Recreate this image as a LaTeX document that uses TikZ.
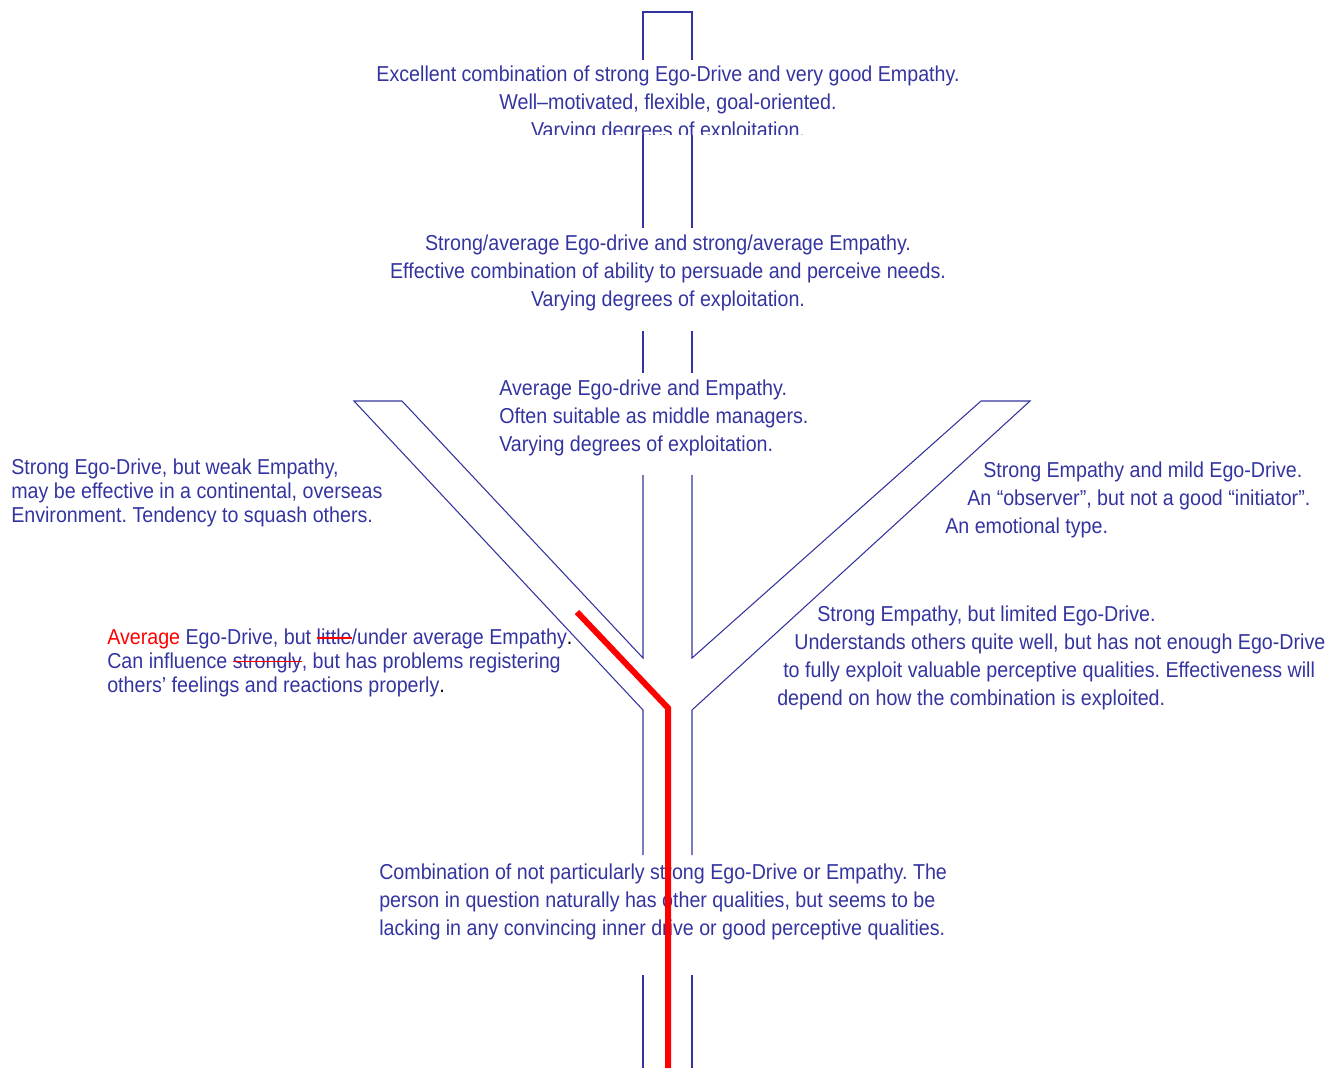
\documentclass[tikz,border=0pt]{standalone}
\usepackage{fontspec}
\setmainfont{Liberation Sans}[FakeStretch=0.91]
\usepackage{xcolor}
\usetikzlibrary{positioning, calc}
\definecolor{ink}{RGB}{52,52,160}
\newcommand{\redout}[1]{\setbox0\hbox{#1}\copy0\llap{\textcolor{red}{\rule[0.55ex]{\wd0}{1.1pt}}}}
\frenchspacing

\begin{document}
\begin{tikzpicture}[x=0.75pt,y=-0.75pt,
  wall/.style={draw=ink,line width=0.8pt},
  lbl/.style={text=ink,inner sep=0pt,font=\fontsize{16.2}{21}\selectfont},
  tight/.style={lbl,font=\fontsize{16.2}{17.7}\selectfont}]
\useasboundingbox (0,0) rectangle (1342,1068);
% Texts along the stem (base = last line)
\node[lbl,align=center,anchor=base] (excellent) at (668,137)
  {Excellent combination of strong Ego-Drive and very good Empathy.\\
   Well--motivated, flexible, goal-oriented.\\
   Varying degrees of exploitation.};
% clipped bottom of the first text
\fill[white] (500,135) rectangle (830,150);
\node[lbl,align=center,anchor=base] (strongavg) at (668,306)
  {Strong/average Ego-drive and strong/average Empathy.\\
   Effective combination of ability to persuade and perceive needs.\\
   Varying degrees of exploitation.};
\node[lbl,align=left,anchor=base west] (average) at (499,451)
  {Average Ego-drive and Empathy.\\
   Often suitable as middle managers.\\
   Varying degrees of exploitation.};
\node[lbl,align=left,anchor=base west] (weak) at (379,935)
  {Combination of not particularly strong Ego-Drive or Empathy. The\\
   person in question naturally has other qualities, but seems to be\\
   lacking in any convincing inner drive or good perceptive qualities.};
% Texts beside the branches
\node[tight,align=left,anchor=base west] (egoleft) at (11,522)
  {Strong Ego-Drive, but weak Empathy,\\
   may be effective in a continental, overseas\\
   Environment. Tendency to squash others.};
\node[tight,align=left,anchor=base west] (underavg) at (107,692)
  {\textcolor{red}{Average} Ego-Drive, but \redout{little}/under average Empathy{\color{black}.}\\
   Can influence \redout{strongly}, but has problems registering\\
   others’ feelings and reactions properly{\color{black}.}};
\node[lbl,align=left,anchor=base west] (observer) at (945,533)
  {\hspace*{28.5pt}Strong Empathy and mild Ego-Drive.\\
   \hspace*{16.5pt}An “observer”, but not a good “initiator”.\\
   An emotional type.};
\node[lbl,align=left,anchor=base west] (limited) at (777,705)
  {\hspace*{30pt}Strong Empathy, but limited Ego-Drive.\\
   \hspace*{12.8pt}Understands others quite well, but has not enough Ego-Drive\\
   \hspace*{4.5pt}to fully exploit valuable perceptive qualities. Effectiveness will\\
   depend on how the combination is exploited.};
% Stem, top part
\draw[wall] (643,60) -- (643,12) -- (692,12) -- (692,60);
\draw[wall] (643,135) -- (643,228) (692,135) -- (692,228);
\draw[wall] (643,331) -- (643,373) (692,331) -- (692,373);
% Fork
\draw[wall] (643,475) -- (643,658) -- (402,401) -- (354,401) -- (643,710) -- (643,855);
\draw[wall] (692,475) -- (692,658) -- (981,401) -- (1030,401) -- (692,710) -- (692,855);
% Stem, bottom part
\draw[wall] (643,975) -- (643,1068) (692,975) -- (692,1068);
% Path taken
\draw[red,line width=4.5pt] (577,612) -- (668,708) -- (668,1068);
\end{tikzpicture}
\end{document}
